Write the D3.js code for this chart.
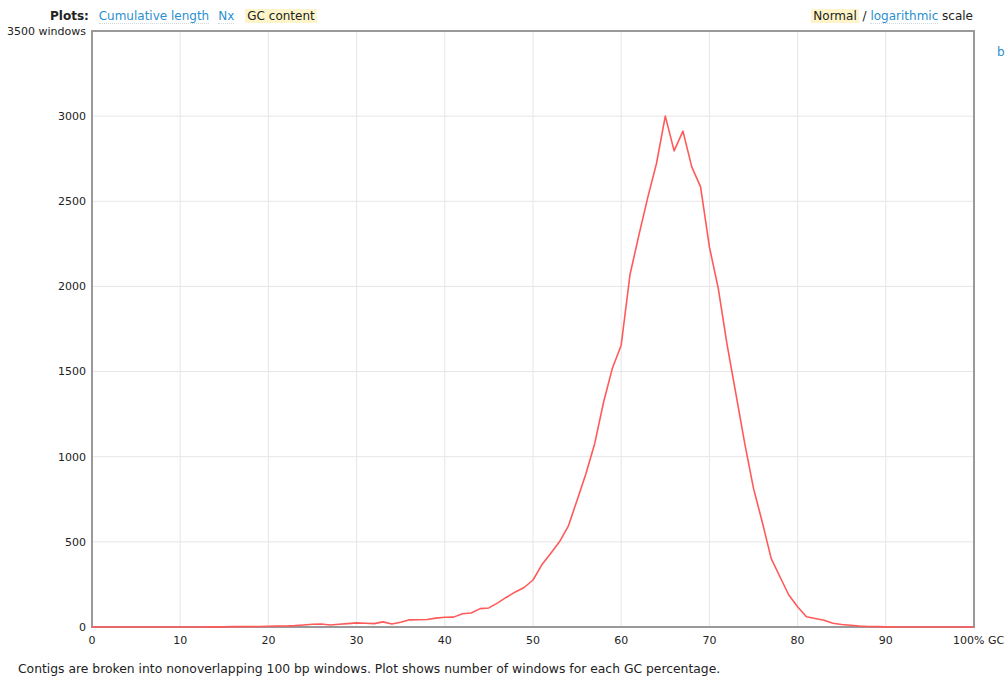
<!DOCTYPE html>
<html>
<head>
<meta charset="utf-8">
<script src="https://cdn.jsdelivr.net/npm/d3@7"></script>
<style>
  body { margin: 0; background: #fff; font-family: "DejaVu Sans", Verdana, sans-serif; color: #222; }
  #wrap { position: relative; width: 1006px; height: 681px; overflow: hidden; }
  .hdr { position: absolute; top: 7px; font-size: 12px; white-space: nowrap; line-height: 18px; }
  .hdr b { margin-right: 6px; }
  .lnk { color: #2b8fcf; border-bottom: 1px dotted #cfd8e0; margin-right: 9px; }
  .sel { background: #fdf5c9; padding: 0 2px; }
  #caption { position: absolute; left: 18px; top: 662px; font-size: 12.35px; white-space: nowrap; }
  svg { position: absolute; left: 0; top: 0; }
</style>
</head>
<body>
<div id="wrap">
  <div class="hdr" style="left:50px"><b>Plots:</b> <span class="lnk">Cumulative length</span><span class="lnk" style="margin-right:11px">Nx</span><span class="sel">GC content</span></div>
  <div class="hdr" style="right:33px"><span class="sel">Normal</span> / <span class="lnk" style="margin-right:0">logarithmic</span> scale</div>
  <div class="hdr" style="left:997px;top:43px"><span style="color:#2b8fcf">b</span></div>
  <div id="caption">Contigs are broken into nonoverlapping 100 bp windows. Plot shows number of windows for each GC percentage.</div>
</div>
<script>
// number of 100 bp windows for each GC percentage 0..100
const gcWindows = [
  0, 0, 0, 0, 0, 0, 0, 0, 0, 0,
  0, 0, 0, 1, 1, 1, 2, 2, 2, 3,
  4, 5, 6, 8, 12, 16, 18, 12, 16, 20,
  24, 22, 20, 30, 18, 28, 42, 43, 44, 52,
  57, 58, 78, 82, 108, 112, 142, 175, 206, 232,
  276, 365, 432, 500, 592, 745, 900, 1078, 1320, 1520,
  1655, 2070, 2300, 2520, 2722, 3000, 2796, 2912, 2702, 2585,
  2232, 1990, 1660, 1370, 1080, 814, 615, 403, 295, 188,
  119, 60, 50, 40, 22, 15, 10, 5, 3, 2,
  1, 0, 0, 0, 0, 0, 0, 0, 0, 0,
  0
];
const gcPercent = d3.range(0, 101);
const xTicks = [0, 10, 20, 30, 40, 50, 60, 70, 80, 90, 100];
const yTicks = [0, 500, 1000, 1500, 2000, 2500, 3000, 3500];

const margin = { top: 31, left: 92 };
const width = 882;
const height = 596;

const svg = d3.select("#wrap").append("svg")
  .attr("width", 1006)
  .attr("height", 681)
  .style("font-family", "'DejaVu Sans', Verdana, sans-serif");

const x = d3.scaleLinear().domain([0, 100]).range([margin.left, margin.left + width]);
const y = d3.scaleLinear().domain([0, 3500]).range([margin.top + height, margin.top]);

// grid
svg.append("g")
  .selectAll("line")
  .data(xTicks.slice(1, -1))
  .join("line")
  .attr("x1", d => x(d)).attr("x2", d => x(d))
  .attr("y1", y(3500)).attr("y2", y(0))
  .attr("stroke", "#e6e6e6");

svg.append("g")
  .selectAll("line")
  .data(yTicks.slice(1, -1))
  .join("line")
  .attr("x1", x(0)).attr("x2", x(100))
  .attr("y1", d => y(d)).attr("y2", d => y(d))
  .attr("stroke", "#e6e6e6");

// frame
svg.append("rect")
  .attr("x", x(0)).attr("y", y(3500))
  .attr("width", x(100) - x(0)).attr("height", y(0) - y(3500))
  .attr("fill", "none")
  .attr("stroke", "#999")
  .attr("stroke-width", 2);

// y labels
svg.append("g")
  .selectAll("text")
  .data(yTicks)
  .join("text")
  .attr("x", x(0) - 6)
  .attr("y", d => y(d))
  .attr("dy", "0.35em")
  .attr("text-anchor", "end")
  .attr("font-size", "11px")
  .attr("fill", "#222")
  .text(d => d === 3500 ? "3500 windows" : d);

// x labels
svg.append("g")
  .selectAll("text")
  .data(xTicks)
  .join("text")
  .attr("x", d => d === 100 ? x(d) - 21 : x(d))
  .attr("y", y(0) + 17)
  .attr("text-anchor", d => d === 100 ? "start" : "middle")
  .attr("font-size", "11px")
  .attr("fill", "#222")
  .text(d => d === 100 ? "100% GC" : d);

// GC content curve
const line = d3.line()
  .x((d, i) => x(gcPercent[i]))
  .y(d => y(d));

svg.append("path")
  .datum(gcWindows)
  .attr("fill", "none")
  .attr("stroke", "#ff5a5a")
  .attr("stroke-width", 1.6)
  .attr("stroke-linejoin", "round")
  .attr("d", line);
</script>
</body>
</html>
